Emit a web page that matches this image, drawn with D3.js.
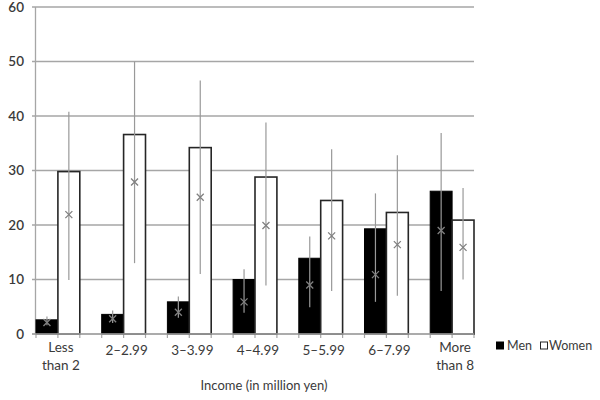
<!DOCTYPE html>
<html lang="en">
<head>
<meta charset="UTF-8">
<title>Income by gender</title>
<script src="https://cdn.jsdelivr.net/npm/d3@7"></script>
<style>
    body{ margin:0; background:#fff; }
    text{ font-family: Lato, "Open Sans", sans-serif; fill:#3a3a3a; }
</style>
</head>
<body>
<svg id="chart" width="600" height="400"></svg>
<script>
    // data
    let categories = [["Less","than 2"],["2\u20132.99"],["3\u20133.99"],["4\u20134.99"],["5\u20135.99"],["6\u20137.99"],["More","than 8"]];
    let men = [2.6, 3.6, 5.9, 10, 13.9, 19.3, 26.2];
    let women = [29.8, 36.6, 34.2, 28.8, 24.5, 22.3, 20.9];
    // error bars: marker, low, high
    let menMark = [2.1, 2.8, 4.0, 5.9, 9.0, 10.9, 19.0];
    let menLow = [1.6, 2.0, 3.0, 3.9, 4.9, 5.9, 7.9];
    let menHigh = [3.2, 4.3, 6.9, 11.9, 17.9, 25.8, 36.9];
    let womenMark = [21.9, 27.9, 25.1, 19.9, 18.0, 16.4, 15.9];
    let womenLow = [9.9, 13.0, 11.0, 8.9, 7.9, 7.0, 10.0];
    let womenHigh = [40.8, 50, 46.5, 38.8, 33.9, 32.8, 26.8];
    let yTicks = [0, 10, 20, 30, 40, 50, 60];

    let svg = d3.select("#chart");
    let plotLeft = 36, plotRight = 474, plotTop = 7, plotBottom = 334;

    let x = d3.scaleBand()
        .domain(d3.range(categories.length))
        .range([plotLeft, plotRight])
        .paddingInner(1/3)
        .paddingOuter(0)
        .align(0);
    let sub = d3.scaleBand()
        .domain(["men","women"])
        .range([0, x.bandwidth()]);
    let y = d3.scaleLinear().domain([0, 60]).range([plotBottom, plotTop]);

    let grey = "#a6a6a6";

    // gridlines
    svg.append("g").selectAll("line")
        .data(yTicks)
        .join("line")
        .attr("x1", plotLeft - 4).attr("x2", plotRight)
        .attr("y1", d => y(d)).attr("y2", d => y(d))
        .attr("stroke", grey).attr("stroke-width", 1.3);

    // y labels
    svg.append("g").selectAll("text")
        .data(yTicks)
        .join("text")
        .attr("x", 24).attr("y", d => y(d))
        .attr("dy", "0.36em")
        .attr("text-anchor", "end")
        .style("font-size", "13.5px")
        .style("font-weight", 600)
        .text(d => d);

    // y axis line
    svg.append("line")
        .attr("x1", plotLeft - 0.5).attr("x2", plotLeft - 0.5)
        .attr("y1", y(60)).attr("y2", y(0))
        .attr("stroke", grey).attr("stroke-width", 1.3);

    // small ticks on x axis, one per bar slot
    let slot = x.step() / 3;
    let slots = d3.range(0, Math.round((plotRight - plotLeft) / slot) + 1);
    svg.append("g").selectAll("line")
        .data(slots)
        .join("line")
        .attr("x1", d => plotLeft + d * slot).attr("x2", d => plotLeft + d * slot)
        .attr("y1", plotBottom).attr("y2", plotBottom + 4)
        .attr("stroke", grey).attr("stroke-width", 1.2);

    // bars
    let g = svg.append("g");
    g.selectAll("rect.men")
        .data(men)
        .join("rect")
        .attr("class", "men")
        .attr("x", (d, i) => x(i) + sub("men"))
        .attr("y", d => y(d))
        .attr("width", sub.bandwidth())
        .attr("height", d => y(0) - y(d))
        .attr("fill", "#000")
        .attr("stroke", "#000").attr("stroke-width", 1);
    g.selectAll("rect.women")
        .data(women)
        .join("rect")
        .attr("class", "women")
        .attr("x", (d, i) => x(i) + sub("women"))
        .attr("y", d => y(d))
        .attr("width", sub.bandwidth())
        .attr("height", d => y(0) - y(d))
        .attr("fill", "#fff")
        .attr("stroke", "#262626").attr("stroke-width", 1.6);

    // x axis baseline
    svg.append("line")
        .attr("x1", plotLeft - 4).attr("x2", plotRight)
        .attr("y1", plotBottom).attr("y2", plotBottom)
        .attr("stroke", grey).attr("stroke-width", 1.3);

    // error bars with x markers
    function errors(key, mark, low, high){
        let cx = i => x(i) + sub(key) + sub.bandwidth() / 2;
        let eg = svg.append("g");
        eg.selectAll("line.err")
            .data(mark)
            .join("line")
            .attr("class", "err")
            .attr("x1", (d, i) => cx(i)).attr("x2", (d, i) => cx(i))
            .attr("y1", (d, i) => y(low[i])).attr("y2", (d, i) => y(high[i]))
            .attr("stroke", "#999").attr("stroke-width", 1.2);
        eg.selectAll("path.mk")
            .data(mark)
            .join("path")
            .attr("class", "mk")
            .attr("d", (d, i) => {
                let px = cx(i), py = y(d), s = 3.5;
                return "M" + (px - s) + "," + (py - s) + "L" + (px + s) + "," + (py + s) +
                       "M" + (px - s) + "," + (py + s) + "L" + (px + s) + "," + (py - s);
            })
            .attr("stroke", "#808080").attr("stroke-width", 1.3).attr("fill", "none");
    }
    errors("men", menMark, menLow, menHigh);
    errors("women", womenMark, womenLow, womenHigh);

    // category labels
    let labels = svg.append("g").selectAll("text")
        .data(categories)
        .join("text")
        .attr("text-anchor", "middle")
        .style("font-size", "13.5px")
        .attr("x", (d, i) => x(i) + x.bandwidth() / 2 + 3)
        .attr("y", d => d.length > 1 ? 352 : 355);
    labels.selectAll("tspan")
        .data(d => d)
        .join("tspan")
        .attr("x", function(){ return this.parentNode.getAttribute("x"); })
        .attr("dy", (d, i) => i === 0 ? 0 : 17.5)
        .text(d => d);

    // axis title
    svg.append("text")
        .attr("x", 264).attr("y", 390)
        .attr("text-anchor", "middle")
        .style("font-size", "13px")
        .text("Income (in million yen)");

    // legend
    let legend = svg.append("g");
    legend.append("rect").attr("x", 496).attr("y", 341.5).attr("width", 8).attr("height", 8)
        .attr("fill", "#000");
    legend.append("text").attr("x", 507).attr("y", 350).style("font-size", "12.5px").text("Men");
    legend.append("rect").attr("x", 540.5).attr("y", 342).attr("width", 7).attr("height", 7)
        .attr("fill", "#fff").attr("stroke", "#262626").attr("stroke-width", 1);
    legend.append("text").attr("x", 549).attr("y", 350).style("font-size", "12.5px").text("Women");
</script>
</body>
</html>
